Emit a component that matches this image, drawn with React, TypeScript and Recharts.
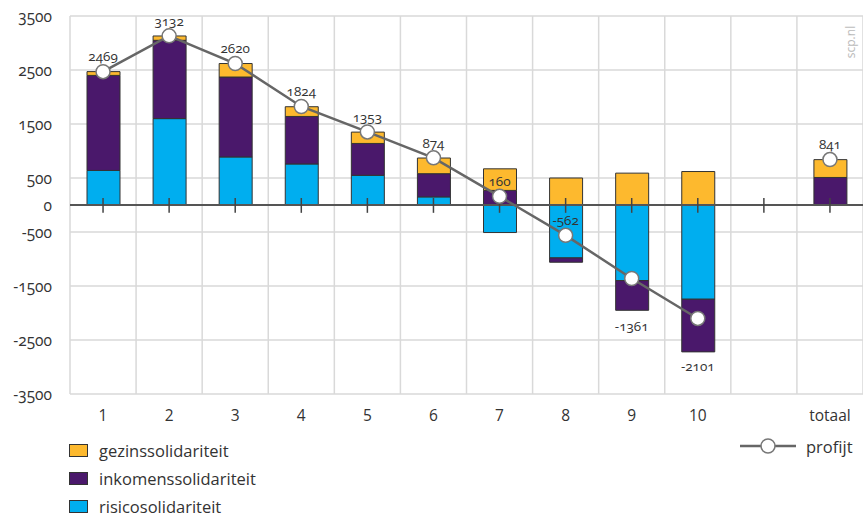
import React from "react";
import {
  Bar,
  CartesianGrid,
  ComposedChart,
  LabelList,
  Line,
  ReferenceLine,
  XAxis,
  YAxis,
} from "recharts";

const categories = ["1", "2", "3", "4", "5", "6", "7", "8", "9", "10", "", "totaal"];
const risico = [640, 1600, 890, 760, 550, 150, -510, -980, -1400, -1745, null, 0];
const inkomens = [1760, 1450, 1480, 880, 590, 430, 270, -80, -550, -975, null, 510];
const gezins = [70, 80, 250, 180, 210, 290, 400, 500, 590, 620, null, 330];
const profijt = [2469, 3132, 2620, 1824, 1353, 874, 160, -562, -1361, -2101, null, 841];
const yTicks = [-3500, -2500, -1500, -500, 0, 500, 1500, 2500, 3500];

const data = categories.map((c, i) => ({
  cat: c,
  risico: risico[i],
  inkomens: inkomens[i],
  gezins: gezins[i],
  profijt: profijt[i],
}));

const FONT = "'Open Sans', sans-serif";
const TEXT = "#333";
const ORANGE = "#fdb92e";
const PURPLE = "#4a186b";
const BLUE = "#00aeef";

const ProfitLabel = (props: any) => {
  const { x, y, value } = props;
  if (value == null) return null;
  const below = value < -1000;
  return (
    <text
      x={x}
      y={below ? y + 48 : y - 15}
      dy="0.35em"
      textAnchor="middle"
      fill={TEXT}
      fontSize={13.5}
      fontFamily={FONT}
      style={{ fontFeatureSettings: "'onum'" }}
    >
      {value}
    </text>
  );
};

const legendItems = [
  { name: "gezinssolidariteit", color: ORANGE },
  { name: "inkomenssolidariteit", color: PURPLE },
  { name: "risicosolidariteit", color: BLUE },
];

export default function App() {
  return (
    <div style={{ position: "absolute", left: 0, top: 0, width: 863, height: 517, background: "#fff", fontFamily: FONT }}>
      <ComposedChart
        width={863}
        height={517}
        data={data}
        stackOffset="sign"
        margin={{ top: 16, right: 0, bottom: 93, left: 0 }}
        barSize={33}
      >
        <CartesianGrid
          stroke="#d9d9d9"
          strokeWidth={1.5}
          verticalCoordinatesGenerator={({ offset }: any) =>
            Array.from({ length: categories.length + 1 }, (_, i) => offset.left + (i * offset.width) / categories.length)
          }
        />
        <XAxis
          dataKey="cat"
          axisLine={false}
          tickLine={false}
          tickMargin={10}
          height={30}
          interval={0}
          tick={{ fill: TEXT, fontSize: 15.5, fontFamily: FONT }}
        />
        <YAxis
          type="number"
          domain={[-3500, 3500]}
          ticks={yTicks}
          axisLine={false}
          tickLine={false}
          tickMargin={12}
          width={70}
          interval={0}
          tick={{ fill: TEXT, fontSize: 15.5, fontFamily: FONT, style: { fontFeatureSettings: "'onum'" } }}
        />
        <Bar dataKey="risico" stackId="s" fill={BLUE} stroke="#333" strokeWidth={1} isAnimationActive={false} />
        <Bar dataKey="inkomens" stackId="s" fill={PURPLE} stroke="#333" strokeWidth={1} isAnimationActive={false} />
        <Bar dataKey="gezins" stackId="s" fill={ORANGE} stroke="#333" strokeWidth={1} isAnimationActive={false} />
        <ReferenceLine y={0} stroke="#555" strokeWidth={2} />
        {categories.map((c, i) => (
          <ReferenceLine
            key={i}
            segment={[
              { x: c, y: 130 },
              { x: c, y: -145 },
            ]}
            stroke="#444"
            strokeWidth={1.5}
          />
        ))}
        <Line
          dataKey="profijt"
          type="linear"
          stroke="#666"
          strokeWidth={2.5}
          dot={{ r: 7, fill: "#fff", stroke: "#777", strokeWidth: 1.5 }}
          activeDot={false}
          connectNulls={false}
          isAnimationActive={false}
        >
          <LabelList dataKey="profijt" content={<ProfitLabel />} />
        </Line>
        <text
          x={851}
          y={42}
          transform="rotate(-90 851 42)"
          textAnchor="middle"
          dy="0.35em"
          fill="#bbb"
          fontSize={12}
          fontFamily={FONT}
        >
          scp.nl
        </text>
      </ComposedChart>

      <div style={{ position: "absolute", left: 69, top: 436 }}>
        {legendItems.map((it) => (
          <div key={it.name} style={{ display: "flex", alignItems: "center", height: 28 }}>
            <div style={{ width: 17, height: 11, background: it.color, border: "1px solid #333", marginRight: 11 }} />
            <span style={{ fontSize: 16.5, color: TEXT }}>{it.name}</span>
          </div>
        ))}
      </div>
      <div style={{ position: "absolute", left: 740, top: 434, display: "flex", alignItems: "center", height: 24 }}>
        <svg width={58} height={24}>
          <line x1={0} y1={12} x2={56} y2={12} stroke="#666" strokeWidth={2.5} />
          <circle cx={28} cy={12} r={7} fill="#fff" stroke="#777" strokeWidth={1.5} />
        </svg>
        <span style={{ fontSize: 16.5, color: TEXT, marginLeft: 8 }}>profijt</span>
      </div>
    </div>
  );
}
